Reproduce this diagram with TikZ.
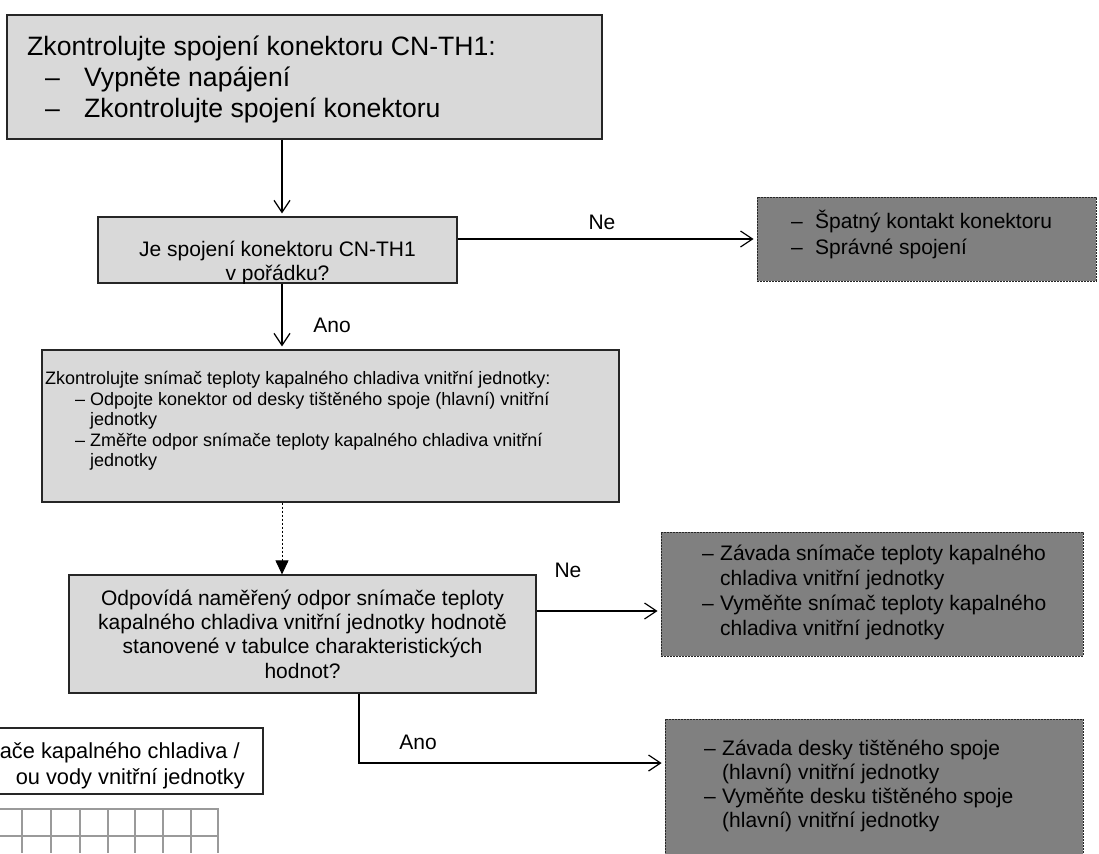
\documentclass[tikz,border=0pt]{standalone}
\usepackage{fontspec}
\setmainfont{Liberation Sans}
\usetikzlibrary{arrows.meta}
\definecolor{boxlight}{HTML}{D9D9D9}
\definecolor{boxdark}{HTML}{808080}
\definecolor{gridgray}{HTML}{9A9A9A}
\begin{document}
\begin{tikzpicture}[x=1pt,y=-1pt,
  lightbox/.style={draw=black!85, line width=1.2pt, fill=boxlight, inner sep=0pt},
  darkbox/.style={draw=black!85, line width=0.8pt, dash pattern=on 2pt off 1pt, fill=boxdark, inner sep=0pt},
  plainbox/.style={draw=black!85, line width=1.2pt, fill=white, inner sep=0pt},
  bigtxt/.style={font=\fontsize{26.6}{32}\selectfont, inner sep=0pt, anchor=base west},
  midtxt/.style={font=\fontsize{21}{24}\selectfont, inner sep=0pt},
  captxt/.style={font=\fontsize{21.8}{25}\selectfont, inner sep=0pt, anchor=base east},
  smalltxt/.style={font=\fontsize{18}{21}\selectfont, inner sep=0pt, anchor=base west},
  arr/.style={line width=1.2pt, -{Straight Barb[length=12pt,width=16pt,line width=1.2pt]}, shorten >=3pt},
  dotarr/.style={line width=1pt, dash pattern=on 2pt off 2pt, -{Triangle[length=14pt,width=13pt]}},
  gridline/.style={draw=gridgray, line width=1.6pt}
]
\useasboundingbox (0,0) rectangle (1099,853);
\fill[white] (0,0) rectangle (1099,853);

% first check
\node[lightbox, minimum width=595pt, minimum height=124pt] (b1) at (304.5,77) {};
\node[bigtxt] (b1l1) at (27,56) {Zkontrolujte spojení konektoru CN-TH1:};
\node[bigtxt] (b1d2) at (45,87) {–};
\node[bigtxt] (b1l2) at (84,87) {Vypněte napájení};
\node[bigtxt] (b1d3) at (45,118) {–};
\node[bigtxt] (b1l3) at (84,118) {Zkontrolujte spojení konektoru};

% connector question
\node[lightbox, minimum width=359pt, minimum height=66pt] (b2) at (277.5,250) {};
\begin{scope}
  \clip ([yshift=0.6pt]b2.south west) rectangle (b2.north east);
  \node[midtxt, anchor=base] (b2l1) at (277.5,256) {Je spojení konektoru CN-TH1};
  \node[midtxt, anchor=base] (b2l2) at (277.5,280) {v pořádku?};
\end{scope}

% bad contact result
\node[darkbox, minimum width=339pt, minimum height=84pt] (b3) at (926.5,239) {};
\node[midtxt, anchor=base west] (b3d1) at (791,228.5) {–};
\node[midtxt, anchor=base west] (b3l1) at (815,228.5) {Špatný kontakt konektoru};
\node[midtxt, anchor=base west] (b3d2) at (791,254.5) {–};
\node[midtxt, anchor=base west] (b3l2) at (815,254.5) {Správné spojení};

% sensor check
\node[lightbox, minimum width=577pt, minimum height=152pt] (b4) at (330.5,426) {};
\node[smalltxt] (b4l1) at (45,384) {Zkontrolujte snímač teploty kapalného chladiva vnitřní jednotky:};
\node[smalltxt] (b4d2) at (75,405) {–};
\node[smalltxt] (b4l2) at (90,405) {Odpojte konektor od desky tištěného spoje (hlavní) vnitřní};
\node[smalltxt] (b4l3) at (90,425) {jednotky};
\node[smalltxt] (b4d4) at (75,446) {–};
\node[smalltxt] (b4l4) at (90,446) {Změřte odpor snímače teploty kapalného chladiva vnitřní};
\node[smalltxt] (b4l5) at (90,466) {jednotky};

% resistance question
\node[lightbox, minimum width=467pt, minimum height=118pt] (b5) at (302.5,634) {};
\node[midtxt, anchor=base] (b5l1) at (302.5,605.5) {Odpovídá naměřený odpor snímače teploty};
\node[midtxt, anchor=base] (b5l2) at (302.5,629.5) {kapalného chladiva vnitřní jednotky hodnotě};
\node[midtxt, anchor=base] (b5l3) at (302.5,653.5) {stanovené v tabulce charakteristických};
\node[midtxt, anchor=base] (b5l4) at (302.5,678) {hodnot?};

% faulty sensor result
\node[darkbox, minimum width=422pt, minimum height=124pt] (b6) at (872,594) {};
\node[midtxt, anchor=base west] (b6d1) at (702,560.5) {–};
\node[midtxt, anchor=base west] (b6l1) at (720,560.5) {Závada snímače teploty kapalného};
\node[midtxt, anchor=base west] (b6l2) at (720,585.5) {chladiva vnitřní jednotky};
\node[midtxt, anchor=base west] (b6d3) at (702,610.5) {–};
\node[midtxt, anchor=base west] (b6l3) at (720,610.5) {Vyměňte snímač teploty kapalného};
\node[midtxt, anchor=base west] (b6l4) at (720,635.5) {chladiva vnitřní jednotky};

% faulty board result
\node[darkbox, minimum width=418pt, minimum height=160pt] (b7) at (874,799) {};
\node[midtxt, anchor=base west] (b7d1) at (704,755) {–};
\node[midtxt, anchor=base west] (b7l1) at (722,755) {Závada desky tištěného spoje};
\node[midtxt, anchor=base west] (b7l2) at (722,779) {(hlavní) vnitřní jednotky};
\node[midtxt, anchor=base west] (b7d3) at (704,803) {–};
\node[midtxt, anchor=base west] (b7l3) at (722,803) {Vyměňte desku tištěného spoje};
\node[midtxt, anchor=base west] (b7l4) at (722,827) {(hlavní) vnitřní jednotky};

% characteristic table caption and grid
\node[plainbox, minimum width=313pt, minimum height=66pt] (b8) at (106.5,761) {};
\node[captxt] (b8l1) at (240,758) {ače kapalného chladiva /};
\node[captxt] (b8l2) at (245,784) {ou vody vnitřní jednotky};
\draw[gridline] (0,809) -- (219,809) (0,836) -- (219,836);
\foreach \gx in {22,51,80,108,135,163,191,218}
  \draw[gridline] (\gx,809) -- (\gx,853);

% connectors
\coordinate (spine) at (282,0);
\draw[arr] (b1.south -| spine) -- (b2.north -| spine);
\draw[arr] (b2.south -| spine) -- (b4.north -| spine);
\draw[dotarr] (b4.south -| spine) -- (b5.north -| spine);
\draw[arr] (b2.east |- b3.west) -- (b3.west);
\coordinate (ne2) at (0,611);
\draw[arr] (b5.east |- ne2) -- (b6.west |- ne2);
\coordinate (ano2) at (359,763);
\draw[arr] (b5.south -| ano2) -- (ano2) -- (b7.west |- ano2);

% branch labels
\node[midtxt] (lne1) at (602,222) {Ne};
\node[midtxt] (lano1) at (332,325) {Ano};
\node[midtxt] (lne2) at (568,570) {Ne};
\node[midtxt] (lano2) at (418,742) {Ano};
\end{tikzpicture}
\end{document}
